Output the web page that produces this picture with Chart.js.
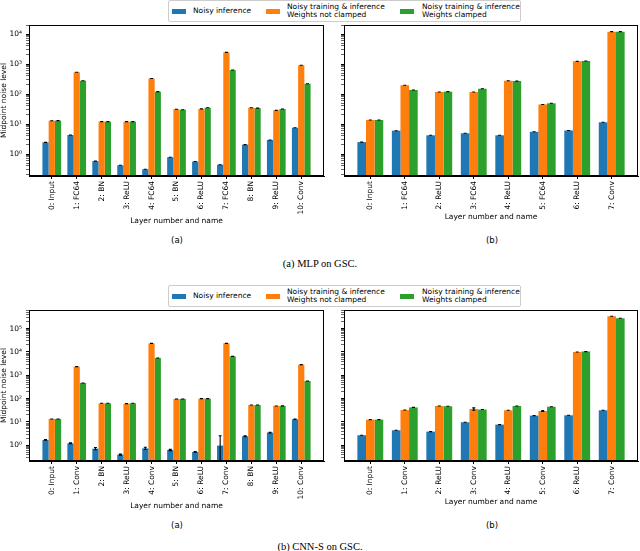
<!DOCTYPE html>
<html>
<head>
<meta charset="utf-8">
<script src="https://cdn.jsdelivr.net/npm/chart.js@4"></script>
<style>
  body { margin: 0; background: #fff; }
  #fig { position: relative; width: 640px; height: 551px; font-family: "DejaVu Sans", sans-serif; color: #000; }
  canvas { position: absolute; }
  .legend { position: absolute; left: 168px; width: 351px; height: 20px; border: 1px solid #ccc; border-radius: 2px; background: #fff; font-size: 7.5px; line-height: 8px; }
  .patch { position: absolute; top: 8px; width: 14px; height: 5px; }
  .ltext { position: absolute; top: 0; height: 20px; display: flex; align-items: center; white-space: nowrap; }
  .sub { position: absolute; font-size: 8.5px; transform: translate(-50%, -50%); }
  .cap { position: absolute; font-family: "Liberation Serif", serif; font-size: 10.5px; transform: translate(-50%, -50%); white-space: nowrap; }
</style>
</head>
<body>
<div id="fig">
  <div class="legend" style="top:0px">
    <span class="patch" style="left:3px;background:#1f77b4"></span><span class="ltext" style="left:24px">Noisy inference</span>
    <span class="patch" style="left:97px;background:#ff7f0e"></span><span class="ltext" style="left:118px">Noisy training &amp; inference<br>Weights not clamped</span>
    <span class="patch" style="left:231px;background:#2ca02c"></span><span class="ltext" style="left:253px">Noisy training &amp; inference<br>Weights clamped</span>
  </div>
  <canvas id="mlpA" width="330" height="226" style="left:0;top:0"></canvas>
  <canvas id="mlpB" width="310" height="222" style="left:330px;top:0"></canvas>
  <div class="sub" style="left:177px;top:240px">(a)</div>
  <div class="sub" style="left:492px;top:240px">(b)</div>
  <div class="cap" style="left:320px;top:263px">(a) MLP on GSC.</div>

  <div class="legend" style="top:285px">
    <span class="patch" style="left:3px;background:#1f77b4"></span><span class="ltext" style="left:24px">Noisy inference</span>
    <span class="patch" style="left:97px;background:#ff7f0e"></span><span class="ltext" style="left:118px">Noisy training &amp; inference<br>Weights not clamped</span>
    <span class="patch" style="left:231px;background:#2ca02c"></span><span class="ltext" style="left:253px">Noisy training &amp; inference<br>Weights clamped</span>
  </div>
  <canvas id="cnnA" width="330" height="231" style="left:0;top:280px"></canvas>
  <canvas id="cnnB" width="310" height="227" style="left:330px;top:280px"></canvas>
  <div class="sub" style="left:177px;top:525px">(a)</div>
  <div class="sub" style="left:492px;top:525px">(b)</div>
  <div class="cap" style="left:320px;top:546px">(b) CNN-S on GSC.</div>
</div>

<script>
const seriesNames = ["Noisy inference", "Noisy training & inference, weights not clamped", "Noisy training & inference, weights clamped"];
const seriesColors = ["#1f77b4", "#ff7f0e", "#2ca02c"];

// MLP on GSC, panel (a)
const mlpLabelsA = ["0: Input", "1: FC64", "2: BN", "3: ReLU", "4: FC64", "5: BN", "6: ReLU", "7: FC64", "8: BN", "9: ReLU", "10: Conv"];
const mlpInferA = [2.45, 4.3, 0.58, 0.42, 0.31, 0.78, 0.56, 0.44, 2.05, 2.93, 7.5];
const mlpUnclampedA = [12.9, 530, 12, 12, 330, 31, 32, 2450, 35, 28.6, 910];
const mlpClampedA = [13, 277, 12, 12, 120, 30, 35, 630, 34, 31.6, 220];

// MLP on GSC, panel (b)
const mlpLabelsB = ["0: Input", "1: FC64", "2: ReLU", "3: FC64", "4: ReLU", "5: FC64", "6: ReLU", "7: Conv"];
const mlpInferB = [2.5, 6.0, 4.2, 4.9, 4.2, 5.5, 6.1, 11.4];
const mlpUnclampedB = [13.6, 195, 117, 117, 277, 45, 1230, 12000];
const mlpClampedB = [13.6, 136, 120, 150, 270, 49, 1260, 12000];

// CNN-S on GSC, panel (a)
const cnnLabelsA = ["0: Input", "1: Conv", "2: BN", "3: ReLU", "4: Conv", "5: BN", "6: ReLU", "7: Conv", "8: BN", "9: ReLU", "10: Conv"];
const cnnInferA = [1.7, 1.22, 0.72, 0.40, 0.74, 0.63, 0.52, 0.97, 2.43, 3.5, 13];
const cnnUnclampedA = [13.4, 2350, 63, 61, 23500, 97, 100, 23500, 53, 48.6, 2870];
const cnnClampedA = [13.4, 470, 63, 63, 5500, 97, 100, 6500, 53, 49, 570];
const cnnInferErrA = [0.05, 0.05, 0.08, 0.02, 0.08, 0.04, 0.02, 1.6, 0.1, 0.1, 0.3];

// CNN-S on GSC, panel (b)
const cnnLabelsB = ["0: Input", "1: Conv", "2: ReLU", "3: Conv", "4: ReLU", "5: Conv", "6: ReLU", "7: Conv"];
const cnnInferB = [2.7, 4.4, 3.85, 9.7, 7.7, 18.7, 19.3, 31.6];
const cnnUnclampedB = [12.6, 32.6, 48.6, 36, 31.6, 29.5, 10000, 340000];
const cnnClampedB = [12.6, 42, 47, 34, 48.6, 45, 10400, 280000];
const cnnUnclampedErrB = [0, 0, 0, 4, 0, 1.5, 0, 0];

// y axis limits and labelled decades
const mlpYRange = [0.185, 20000];
const cnnYRange = [0.212, 631000];
const mlpYExps = [0, 1, 2, 3, 4];
const cnnYExps = [0, 1, 2, 3, 4, 5];

const FONT = "DejaVu Sans";
const SUP = { "0": "⁰", "1": "¹", "2": "²", "3": "³", "4": "⁴", "5": "⁵", "-": "⁻" };
const isPow10 = v => Math.abs(Math.log10(v) - Math.round(Math.log10(v))) < 1e-9;

// error bars + closed frame, like matplotlib axes
const framePlugin = {
  id: "frame",
  afterDatasetsDraw(chart) {
    const { ctx, chartArea: a, scales: { y } } = chart;
    ctx.save();
    ctx.beginPath();
    ctx.rect(a.left, a.top, a.right - a.left, a.bottom - a.top);
    ctx.clip();
    ctx.strokeStyle = "#000";
    ctx.lineWidth = 1.1;
    chart.data.datasets.forEach((ds, d) => {
      chart.getDatasetMeta(d).data.forEach((bar, i) => {
        const v = ds.data[i].y;
        const e = ds.err ? ds.err[i] : 0;
        const top = y.getPixelForValue(v + e);
        const bot = v - e > 0 ? y.getPixelForValue(v - e) : a.bottom + 2;
        ctx.beginPath();
        ctx.moveTo(bar.x, top); ctx.lineTo(bar.x, bot);
        ctx.moveTo(bar.x - 1.5, top); ctx.lineTo(bar.x + 1.5, top);
        if (v - e > 0) { ctx.moveTo(bar.x - 1.5, bot); ctx.lineTo(bar.x + 1.5, bot); }
        ctx.stroke();
      });
    });
    ctx.restore();
    ctx.save();
    ctx.strokeStyle = "#000";
    ctx.lineWidth = 1;
    ctx.strokeRect(a.left + 0.5, a.top + 0.5, a.right - a.left - 1, a.bottom - a.top - 1);
    ctx.restore();
  }
};

function makeChart(id, labels, series, errs, yRange, exps, box) {
  const n = labels.length;
  const xPad = 0.375 + 0.05 * (n - 0.25);
  new Chart(document.getElementById(id), {
    type: "bar",
    data: {
      datasets: series.map((vals, k) => ({
        label: seriesNames[k],
        data: vals.map((v, i) => ({ x: i, y: v })),
        err: errs[k],
        backgroundColor: seriesColors[k],
        borderWidth: 0,
        categoryPercentage: 0.75,
        barPercentage: 1.0
      }))
    },
    options: {
      responsive: false,
      animation: false,
      layout: { padding: box.pad },
      plugins: { legend: { display: false }, tooltip: { enabled: false } },
      scales: {
        x: {
          type: "linear",
          min: -xPad,
          max: n - 1 + xPad,
          offset: false,
          afterBuildTicks: s => { s.ticks = labels.map((_, i) => ({ value: i })); },
          afterFit: s => { s.height = box.xh; },
          ticks: {
            autoSkip: false, minRotation: 90, maxRotation: 90, padding: 2,
            color: "#000", font: { family: FONT, size: 7.5 },
            callback: v => labels[v]
          },
          grid: { drawOnChartArea: false, drawTicks: true, tickLength: 3, color: "#000", offset: false },
          border: { color: "#000", width: 1 },
          title: { display: true, text: "Layer number and name", color: "#000", font: { family: FONT, size: 7.5 }, padding: { top: 0, bottom: 0 } }
        },
        y: {
          type: "logarithmic",
          min: yRange[0],
          max: yRange[1],
          afterBuildTicks: s => {
            const t = [];
            for (let e = Math.floor(Math.log10(yRange[0])); e <= Math.ceil(Math.log10(yRange[1])); e++) {
              for (let k = 1; k < 10; k++) {
                const v = k * Math.pow(10, e);
                if (v >= yRange[0] && v <= yRange[1]) t.push({ value: v, major: k === 1 });
              }
            }
            s.ticks = t;
          },
          afterFit: s => { s.width = box.yw; },
          ticks: {
            autoSkip: false, padding: 4, color: "#000", font: { family: FONT, size: 7.5 },
            callback: v => {
              if (!box.showY || !isPow10(v)) return "";
              const e = Math.round(Math.log10(v));
              if (!exps.includes(e)) return "";
              return "10" + String(e).split("").map(c => SUP[c]).join("");
            }
          },
          grid: {
            drawOnChartArea: false, drawTicks: true, tickLength: 3, color: "#000",
            tickWidth: c => (c.tick && isPow10(c.tick.value)) ? 1 : 0.6
          },
          border: { color: "#000", width: 1 },
          title: { display: box.showY, text: "Midpoint noise level", color: "#000", font: { family: FONT, size: 7.5 }, padding: { top: 0, bottom: 0 } }
        }
      }
    },
    plugins: [framePlugin]
  });
}

makeChart("mlpA", mlpLabelsA, [mlpInferA, mlpUnclampedA, mlpClampedA], [null, null, null], mlpYRange, mlpYExps,
  { pad: { top: 25, right: 6, left: 0, bottom: 0 }, yw: 29, xh: 50, showY: true });
makeChart("mlpB", mlpLabelsB, [mlpInferB, mlpUnclampedB, mlpClampedB], [null, null, null], mlpYRange, mlpYExps,
  { pad: { top: 25, right: 2, left: 0, bottom: 0 }, yw: 14, xh: 46, showY: false });
makeChart("cnnA", cnnLabelsA, [cnnInferA, cnnUnclampedA, cnnClampedA], [cnnInferErrA, null, null], cnnYRange, cnnYExps,
  { pad: { top: 30, right: 6, left: 0, bottom: 0 }, yw: 29, xh: 50, showY: true });
makeChart("cnnB", cnnLabelsB, [cnnInferB, cnnUnclampedB, cnnClampedB], [null, cnnUnclampedErrB, null], cnnYRange, cnnYExps,
  { pad: { top: 30, right: 2, left: 0, bottom: 0 }, yw: 14, xh: 46, showY: false });
</script>
</body>
</html>
